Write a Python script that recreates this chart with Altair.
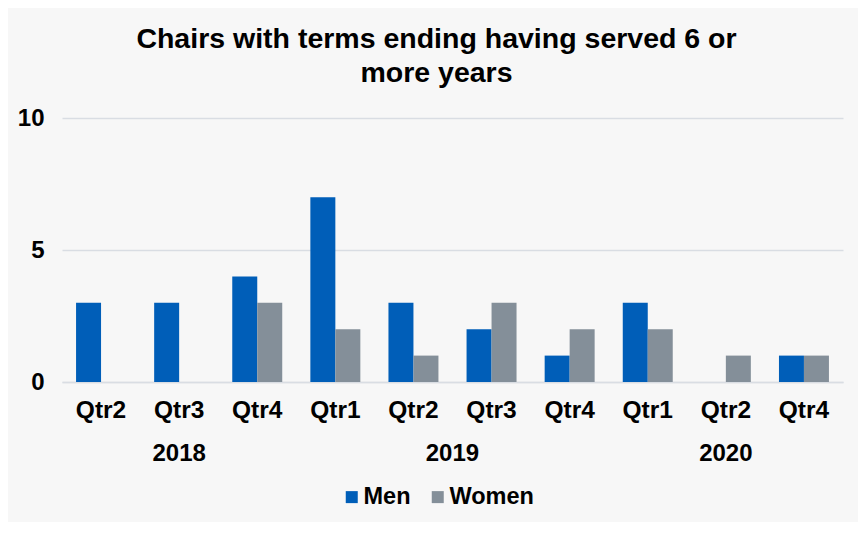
import altair as alt
import pandas as pd

years = ["2018", "2018", "2018", "2019", "2019", "2019", "2019", "2020", "2020", "2020"]
quarters = ["Qtr2", "Qtr3", "Qtr4", "Qtr1", "Qtr2", "Qtr3", "Qtr4", "Qtr1", "Qtr2", "Qtr4"]
men = [3, 3, 4, 7, 3, 2, 1, 3, 0, 1]
women = [0, 0, 3, 2, 1, 3, 2, 2, 1, 1]
series = ["Men", "Women"]
colors = ["#005EB8", "#848F99"]
year_labels = ["2018", "2019", "2020"]
year_anchor = ["2018 Qtr3", "2019 Qtr2", "2020 Qtr2"]

keys = [f"{y} {q}" for y, q in zip(years, quarters)]
rows = []
for k, m, w in zip(keys, men, women):
    rows.append({"key": k, "series": "Men", "value": m})
    rows.append({"key": k, "series": "Women", "value": w})
df = pd.DataFrame(rows)

FONT = "Liberation Sans"
W, H = 781, 264

xscale = alt.Scale(domain=keys, paddingInner=0.36, paddingOuter=0.18)

bars = alt.Chart(df).mark_bar().encode(
    x=alt.X("key:N", scale=xscale, sort=keys, title=None,
            axis=alt.Axis(labelExpr="split(datum.label, ' ')[1]", labelAngle=0,
                          labelFont=FONT, labelFontSize=24.5, labelFontWeight="bold",
                          labelColor="#000000", labelPadding=16, ticks=False,
                          domainColor="#D9DDE3", domainWidth=1.5)),
    xOffset=alt.XOffset("series:N", sort=series),
    y=alt.Y("value:Q", scale=alt.Scale(domain=[0, 10]), title=None,
            axis=alt.Axis(values=[0, 5, 10], ticks=False, domain=False,
                          labelFont=FONT, labelFontSize=24, labelFontWeight="bold",
                          labelColor="#000000", labelPadding=18,
                          gridColor="#D9DDE3", gridWidth=1.5)),
    color=alt.Color("series:N", sort=series,
                    scale=alt.Scale(domain=series, range=colors),
                    legend=alt.Legend(title=None, orient="none", direction="horizontal",
                                      legendX=278, legendY=367,
                                      symbolType="square", symbolSize=144,
                                      symbolStrokeWidth=0,
                                      labelFont=FONT, labelFontSize=23.5,
                                      labelFontWeight="bold", labelColor="#000000",
                                      columnPadding=15, labelOffset=0)),
)

ydf_a = pd.DataFrame({"label": [year_labels[0], year_labels[2]],
                      "key": [year_anchor[0], year_anchor[2]]})
ydf_b = pd.DataFrame({"label": [year_labels[1]], "key": [year_anchor[1]]})

ytext_a = alt.Chart(ydf_a).mark_text(
    font=FONT, fontSize=24, fontWeight="bold", color="#000000", baseline="middle"
).encode(x=alt.X("key:N", scale=xscale, sort=keys), y=alt.value(H + 72), text="label:N")

ytext_b = alt.Chart(ydf_b).mark_text(
    font=FONT, fontSize=24, fontWeight="bold", color="#000000", baseline="middle", dx=39
).encode(x=alt.X("key:N", scale=xscale, sort=keys), y=alt.value(H + 72), text="label:N")

chart = alt.layer(bars, ytext_a, ytext_b).properties(
    width=W, height=H,
    title=alt.TitleParams(
        text=["Chairs with terms ending having served 6 or", "more years"],
        font=FONT, fontSize=28.5, fontWeight="bold", color="#000000",
        anchor="middle", dx=-16, offset=19, lineHeight=34),
    autosize=alt.AutoSizeParams(type="none"),
    padding={"left": 54, "top": 110, "right": 15, "bottom": 140},
    background="#F7F7F7",
).configure_view(stroke=None)

chart.save("out.html", embed_options={"renderer": "svg", "actions": False})
